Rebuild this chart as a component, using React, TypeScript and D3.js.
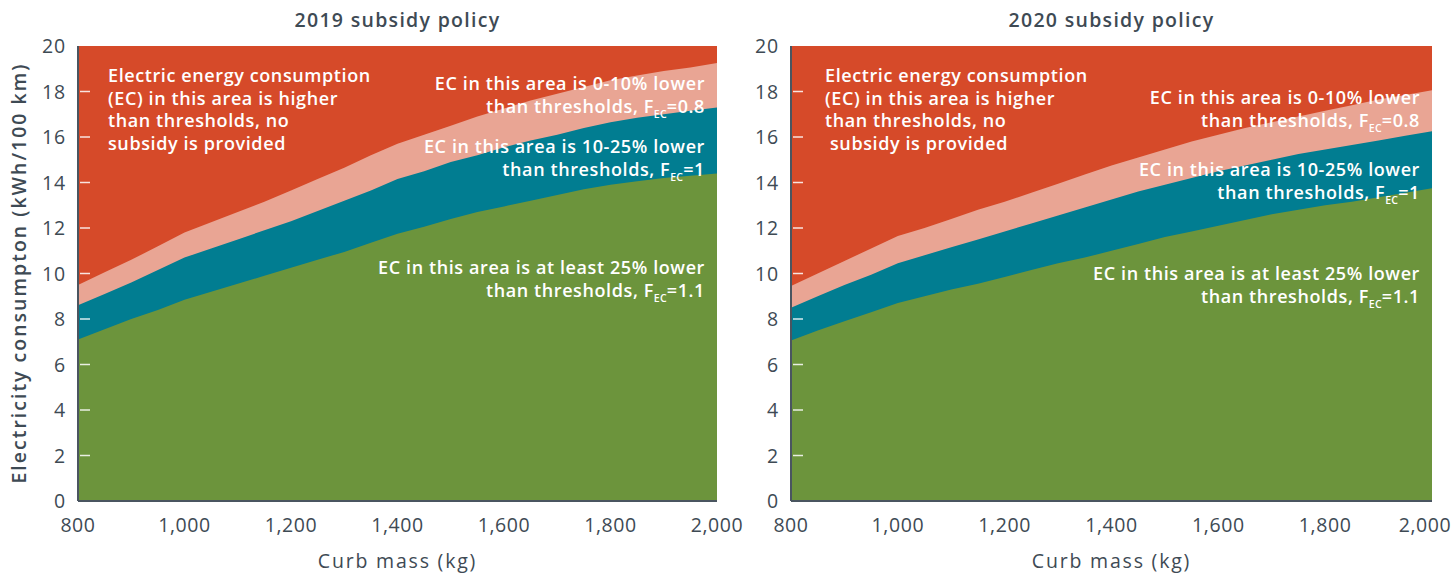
import React from "react";
import * as d3 from "d3";

// curb mass categories (kg)
const MASS = [800, 850, 900, 950, 1000, 1050, 1100, 1150, 1200, 1250, 1300, 1350, 1400,
  1450, 1500, 1550, 1600, 1650, 1700, 1750, 1800, 1850, 1900, 1950, 2000];

// 2019 policy: threshold, 10% lower, 25% lower (kWh/100 km)
const T2019 = [9.5, 10.05, 10.6, 11.2, 11.8, 12.25, 12.7, 13.15, 13.65, 14.15, 14.65, 15.2, 15.7,
  16.1, 16.5, 16.9, 17.25, 17.6, 17.9, 18.2, 18.5, 18.7, 18.9, 19.05, 19.25];
const L10_2019 = [8.6, 9.1, 9.6, 10.15, 10.7, 11.1, 11.5, 11.9, 12.3, 12.75, 13.2, 13.65, 14.15,
  14.5, 14.9, 15.2, 15.55, 15.85, 16.1, 16.4, 16.65, 16.85, 17.0, 17.15, 17.3];
const L25_2019 = [7.1, 7.55, 8.0, 8.4, 8.85, 9.2, 9.55, 9.9, 10.25, 10.6, 10.95, 11.35, 11.75,
  12.05, 12.4, 12.7, 12.95, 13.2, 13.45, 13.7, 13.9, 14.05, 14.2, 14.3, 14.4];

// 2020 policy
const T2020 = [9.45, 10.0, 10.55, 11.1, 11.65, 12.0, 12.4, 12.8, 13.15, 13.55, 13.95, 14.35, 14.75,
  15.1, 15.45, 15.8, 16.1, 16.4, 16.65, 16.9, 17.15, 17.4, 17.65, 17.85, 18.05];
const L10_2020 = [8.5, 9.0, 9.5, 9.95, 10.45, 10.8, 11.15, 11.5, 11.85, 12.2, 12.55, 12.9, 13.25,
  13.6, 13.9, 14.2, 14.5, 14.75, 15.0, 15.25, 15.45, 15.65, 15.85, 16.05, 16.25];
const L25_2020 = [7.05, 7.5, 7.9, 8.3, 8.7, 9.0, 9.3, 9.55, 9.85, 10.15, 10.45, 10.7, 11.0,
  11.3, 11.6, 11.85, 12.1, 12.35, 12.6, 12.8, 13.0, 13.15, 13.35, 13.55, 13.75];

const X_TICKS = [800, 1000, 1200, 1400, 1600, 1800, 2000];
const Y_TICKS = [0, 2, 4, 6, 8, 10, 12, 14, 16, 18, 20];

const FONT = "'Open Sans', sans-serif";
const GREY = "#3e4a54";
const RED = "#d64a29";
const PINK = "#e9a594";
const TEAL = "#017d91";
const GREEN = "#6c943c";

const Panel = ({ title, left, right, thr, l10, l25, indent, noteX, rightY }) => {
  const x = d3.scaleLinear().domain([800, 2000]).range([left, right]);
  const y = d3.scaleLinear().domain([0, 20]).range([501, 46]);
  const area = (vals) =>
    d3.area()
      .x((_, i) => x(MASS[i]))
      .y0(y(0))
      .y1((d) => y(d))(vals);
  const cx = (left + right) / 2;
  const tx = right - 12;
  const sub = (label, val) => (
    <>
      {label}
      <tspan dy={5} fontSize={10.5} letterSpacing={0.2}>EC</tspan>
      <tspan dy={-5}>{val}</tspan>
    </>
  );
  return (
    <g>
      <text x={cx} y={27} textAnchor="middle" fontFamily={FONT} fontSize={19.5} fontWeight={600}
        fill={GREY} letterSpacing={1.3}>{title}</text>
      <rect x={left} y={y(20)} width={right - left} height={y(0) - y(20)} fill={RED} />
      <path d={area(thr)} fill={PINK} />
      <path d={area(l10)} fill={TEAL} />
      <path d={area(l25)} fill={GREEN} />
      {Y_TICKS.filter((t) => t > 0 && t < 20).map((t) => (
        <line key={t} x1={left + 2} x2={left + 12} y1={y(t)} y2={y(t)} stroke="#fff" strokeOpacity={0.85} strokeWidth={1.5} />
      ))}
      <line x1={left} x2={left} y1={y(20)} y2={y(0)} stroke="#4a5560" strokeWidth={2} />
      <line x1={left} x2={right} y1={y(0)} y2={y(0)} stroke="#4a5560" strokeWidth={2} />
      {Y_TICKS.map((t) => (
        <text key={t} x={left - 12} y={y(t) + 7} textAnchor="end" fontFamily={FONT} fontSize={19.5}
          fill={GREY} letterSpacing={0.8}>{t}</text>
      ))}
      {X_TICKS.map((t) => (
        <text key={t} x={Math.min(x(t), 1425)} y={532} textAnchor="middle" fontFamily={FONT} fontSize={19.5}
          fill={GREY} letterSpacing={0.6}>{d3.format(",")(t)}</text>
      ))}
      <text x={cx} y={568} textAnchor="middle" fontFamily={FONT} fontSize={19.5} fontWeight={500}
        fill={GREY} letterSpacing={1.8}>Curb mass (kg)</text>
      <g fontFamily={FONT} fontSize={18} fontWeight={600} fill="#fff" letterSpacing={0.6}>
        <text x={noteX} y={82}>Electric energy consumption</text>
        <text x={noteX} y={104.5}>(EC) in this area is higher</text>
        <text x={noteX} y={127}>than thresholds, no</text>
        <text x={noteX + indent} y={149.5}>subsidy is provided</text>
      </g>
      <g fontFamily={FONT} fontSize={18} fontWeight={600} fill="#fff" letterSpacing={0.6} textAnchor="end">
        <text x={tx} y={rightY[0]}>EC in this area is 0-10% lower</text>
        <text x={tx} y={rightY[0] + 22.5}>{sub("than thresholds, F", "=0.8")}</text>
        <text x={tx} y={rightY[1]}>EC in this area is 10-25% lower</text>
        <text x={tx} y={rightY[1] + 22.5}>{sub("than thresholds, F", "=1")}</text>
        <text x={tx} y={rightY[2]}>EC in this area is at least 25% lower</text>
        <text x={tx} y={rightY[2] + 22.5}>{sub("than thresholds, F", "=1.1")}</text>
      </g>
    </g>
  );
};

export default function App() {
  return (
    <div style={{ position: "absolute", left: 0, top: 0 }}>
      <svg width={1454} height={573} style={{ display: "block", background: "#fff" }}>
        <text transform="translate(26,273) rotate(-90)" textAnchor="middle" fontFamily={FONT}
          fontSize={19.5} fontWeight={600} fill={GREY} letterSpacing={2}>
          Electricity consumpton (kWh/100 km)
        </text>
        <Panel title="2019 subsidy policy" left={78} right={717} thr={T2019} l10={L10_2019} l25={L25_2019}
          indent={0} noteX={108} rightY={[90, 153, 274]} />
        <Panel title="2020 subsidy policy" left={791} right={1432} thr={T2020} l10={L10_2020} l25={L25_2020}
          indent={5} noteX={825} rightY={[104, 176, 280]} />
      </svg>
    </div>
  );
}
